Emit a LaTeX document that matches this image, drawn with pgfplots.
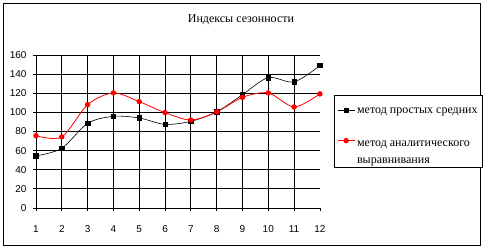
\documentclass[border=0pt]{standalone}
\usepackage{fontspec}
\setmainfont{Liberation Serif}
\newfontfamily\tickfont{Liberation Sans}
\usepackage{pgfplots}
\pgfplotsset{compat=1.18}
\begin{document}
\begin{tikzpicture}[x=1pt,y=1pt]
\path (0,0) rectangle (483,248);
\draw[line width=0.8pt] (3,3) rectangle (481,245);
\node[font=\rmfamily\fontsize{12}{14}\selectfont] at (241,228) {Индексы сезонности};
\begin{axis}[
  at={(36pt,40pt)}, anchor=south west,
  scale only axis, width=284pt, height=153pt,
  xmin=1, xmax=12, ymin=0, ymax=160,
  axis x line*=bottom, axis y line*=left,
  axis line style={-, line width=0.8pt},
  xtick={1,...,11}, extra x ticks={12}, extra x tick style={grid=none},
  ytick={0,20,...,160},
  grid=major, major grid style={black, line width=0.8pt},
  tick align=outside, major tick length=3pt,
  tick style={black, line width=0.8pt},
  /pgf/number format/assume math mode=true,
  tick label style={font=\tickfont\fontsize{10}{12}\selectfont},
  xticklabel style={yshift=-11pt},
  yticklabel style={xshift=-3pt},
  legend style={at={(1.049,0.739)}, anchor=north west, draw=black, line width=0.8pt,
    font=\rmfamily\fontsize{12}{17}\selectfont, cells={anchor=base west},
    row sep=16pt, inner xsep=3pt, inner ysep=0pt},
  legend image post style={yshift=3pt},
]
\addplot[black, line width=0.6pt, smooth, tension=0.5, mark=square*, mark size=2.2pt, mark options={solid}] coordinates {
(1,54.4) (2,62.4) (3,88.5) (4,95.8) (5,94.1) (6,87.4) (7,90.6) (8,100.4) (9,118.5) (10,136.3) (11,131.8) (12,148.9)};
\addlegendentry{\rule{0pt}{16pt}метод простых средних}
\addplot[red, line width=0.8pt, smooth, tension=0.5, mark=*, mark size=2.3pt, mark options={solid},
  legend image post style={yshift=20pt}] coordinates {
(1,75.6) (2,74.3) (3,108) (4,120.3) (5,111.2) (6,99.7) (7,92) (8,100.4) (9,115.7) (10,120.3) (11,105.6) (12,119.3)};
\addlegendentry{\raisebox{0pt}[\height][-7pt]{\begin{tabular}[b]{@{}l@{}}метод аналитического\\выравнивания\end{tabular}}}
\end{axis}
\end{tikzpicture}
\end{document}
